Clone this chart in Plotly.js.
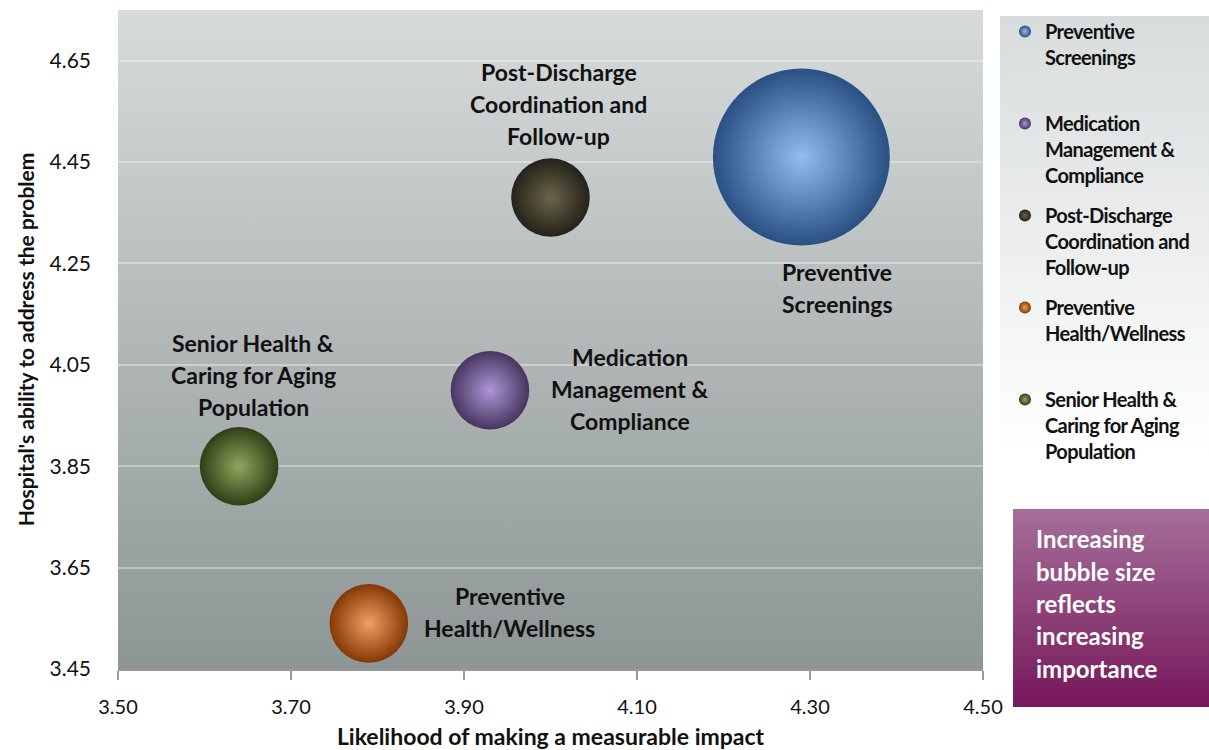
<!DOCTYPE html>
<html><head><meta charset="utf-8">
<script src="https://cdn.plot.ly/plotly-3.0.1.min.js"></script>
<style>
html,body{margin:0;padding:0;background:#fff;}
#chart{width:1209px;height:750px;}
.legendtext{letter-spacing:-0.6px;}
</style></head><body><div id="chart"></div>
<script>
// ---- data ----
const categories = ['Preventive Screenings', 'Medication Management & Compliance', 'Post-Discharge Coordination and Follow-up', 'Preventive Health/Wellness', 'Senior Health & Caring for Aging Population'];
const legendLabels = ['Preventive<br>Screenings<br>\u00a0', 'Medication<br>Management &<br>Compliance', 'Post-Discharge<br>Coordination and<br>Follow-up', 'Preventive<br>Health/Wellness<br>\u00a0', 'Senior Health &<br>Caring for Aging<br>Population'];
const likelihood = [4.29, 3.93, 4.00, 3.79, 3.64];
const ability = [4.46, 4.00, 4.38, 3.54, 3.85];
const importance = [4.5, 2.0, 2.0, 2.0, 2.0];
const labelLines = [['Preventive', 'Screenings'], ['Medication', 'Management &', 'Compliance'], ['Post-Discharge', 'Coordination and', 'Follow-up'], ['Preventive', 'Health/Wellness'], ['Senior Health &', 'Caring for Aging', 'Population']];
const noteLines = ['Increasing', 'bubble size', 'reflects', 'increasing', 'importance'];
const xTickVals = [3.50, 3.70, 3.90, 4.10, 4.30, 4.50];
const yTickVals = [3.45, 3.65, 3.85, 4.05, 4.25, 4.45, 4.65];

// ---- styles ----
const edgeColors = ['#2a5083', '#47355f', '#24221a', '#843805', '#2f3f15'];
const centerColors = ['#92bdf0', '#ae96d6', '#6a6549', '#f2a060', '#8ea75e'];
const labelOffsets = [[36, -131], [140, 1], [8, 94], [141, 11], [14, 91]]; // px from bubble centre
const LINE = 32;
const FAM = 'Lato, "Open Sans", sans-serif';
const labelFont = {family: FAM, size: 23, color: '#111', weight: 700};

function svgGrad(top, bottom) {
  const s = "<svg xmlns='http://www.w3.org/2000/svg' width='100' height='100' viewBox='0 0 100 100' preserveAspectRatio='none'>" +
    "<defs><linearGradient id='g' x1='0' y1='0' x2='0' y2='1'><stop offset='0' stop-color='" + top + "'/><stop offset='1' stop-color='" + bottom + "'/></linearGradient></defs>" +
    "<rect width='100' height='100' fill='url(#g)'/></svg>";
  return 'data:image/svg+xml;charset=utf-8,' + encodeURIComponent(s);
}

const traces = categories.map((name, i) => ({
  type: 'scatter', mode: 'markers',
  name: legendLabels[i], legendgroup: 'g' + i,
  x: [likelihood[i]], y: [ability[i]],
  text: [name], hoverinfo: 'text+x+y',
  marker: {
    size: [importance[i]], sizemode: 'diameter', sizeref: 1 / 39.3,
    color: edgeColors[i], opacity: 1,
    gradient: {type: 'radial', color: centerColors[i]},
    line: {width: 0}
  }
}));

const annotations = [];
labelLines.forEach((lines, i) => {
  const n = lines.length;
  lines.forEach((t, j) => {
    annotations.push({
      x: likelihood[i], y: ability[i], xref: 'x', yref: 'y',
      text: t, showarrow: false, xanchor: 'center', yanchor: 'middle',
      xshift: labelOffsets[i][0], yshift: labelOffsets[i][1] - (j - (n - 1) / 2) * LINE,
      font: labelFont
    });
  });
});
noteLines.forEach((t, j) => {
  annotations.push({
    xref: 'paper', yref: 'paper', x: 1.0590, y: 0.1973 - j * (32.3 / 659),
    text: t, showarrow: false, xanchor: 'left', yanchor: 'middle',
    font: {family: FAM, size: 24, color: '#ffffff', weight: 700}
  });
});

const layout = {
  width: 1209, height: 750,
  margin: {l: 118, r: 226, t: 10, b: 81},
  paper_bgcolor: '#ffffff', plot_bgcolor: 'rgba(0,0,0,0)',
  font: {family: FAM, color: '#111'},
  showlegend: true,
  legend: {
    x: 1.0254, xanchor: 'left', y: 0.997, yanchor: 'top',
    bgcolor: 'rgba(0,0,0,0)', borderwidth: 0,
    font: {family: FAM, size: 20, color: '#111', weight: 700},
    valign: 'top', itemsizing: 'constant', traceorder: 'grouped', tracegroupgap: 11,
    itemwidth: 30
  },
  xaxis: {
    range: [3.5, 4.5], tickvals: xTickVals, tickformat: '.2f',
    showgrid: false, zeroline: false,
    showline: true, linecolor: '#999', linewidth: 2,
    ticks: 'outside', ticklen: 9, tickwidth: 2, tickcolor: '#999',
    ticklabelstandoff: 10,
    tickfont: {family: FAM, size: 20, color: '#111'},
    title: {text: 'Likelihood of making a measurable impact', standoff: 13,
      font: {family: FAM, size: 23, color: '#111', weight: 700}},
    fixedrange: true
  },
  yaxis: {
    range: [3.45, 4.75], tickvals: yTickVals, tickformat: '.2f',
    showgrid: true, gridcolor: 'rgba(255,255,255,0.35)', gridwidth: 2,
    zeroline: false, showline: false, ticks: '',
    ticklabelstandoff: 26,
    tickfont: {family: FAM, size: 21, color: '#111'},
    title: {text: "Hospital's ability to address the problem", standoff: 9,
      font: {family: FAM, size: 21, color: '#111', weight: 700}},
    fixedrange: true
  },
  images: [
    {source: svgGrad('#d7dbdb', '#8d9595'), xref: 'paper', yref: 'paper', x: 0, y: 1, sizex: 1, sizey: 1,
      xanchor: 'left', yanchor: 'top', sizing: 'stretch', layer: 'below'},
    {source: svgGrad('#d8dcdc', '#ffffff'), xref: 'paper', yref: 'paper', x: 1.0197, y: 0.9909, sizex: 0.2416, sizey: 0.663,
      xanchor: 'left', yanchor: 'top', sizing: 'stretch', layer: 'below'},
    {source: svgGrad('#a56f99', '#76175b'), xref: 'paper', yref: 'paper', x: 1.0347, y: 0.2428, sizex: 0.2266, sizey: 0.3005,
      xanchor: 'left', yanchor: 'top', sizing: 'stretch', layer: 'below'}
  ],
  annotations: annotations,
  hovermode: 'closest'
};

Plotly.newPlot('chart', traces, layout, {displayModeBar: false});
</script></body></html>
